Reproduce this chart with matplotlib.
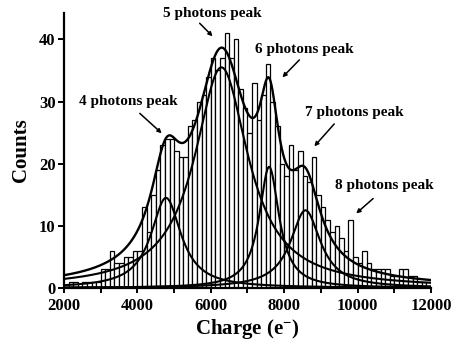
import numpy as np
import matplotlib
matplotlib.use("Agg")
import matplotlib.pyplot as plt

# Histogram of charge (electrons), 125 e- bins starting at 2000
bin_start = 2000
bin_width = 125
counts = [
    0, 1, 1, 0, 1, 1, 1, 1, 3, 3,
    6, 4, 4, 5, 5, 6, 6, 13, 9, 15,
    19, 23, 24, 24, 22, 21, 21, 26, 27, 30,
    31, 34, 37, 35, 37, 41, 37, 40, 32, 29,
    25, 33, 27, 31, 36, 30, 26, 20, 18, 23,
    19, 22, 18, 17, 21, 15, 13, 11, 9, 10,
    8, 6, 11, 5, 4, 6, 4, 3, 3, 3,
    3, 2, 2, 3, 3, 2, 2, 1, 1, 1,
]

# Lorentzian peak fits (4, 5, 6, 7 photons): centre, height, half width
peak_centers = [4780, 6290, 7590, 8580]
peak_heights = [14.5, 35.5, 19.5, 12.5]
peak_hwhm = [500, 890, 330, 500]

# Peak annotations: text, text position, arrow tail and tip
labels = ["4 photons peak", "5 photons peak", "6 photons peak",
          "7 photons peak", "8 photons peak"]
label_xy = [(3766, 30.0), (6049, 44.2), (8549, 38.4), (9908, 28.3), (10723, 16.5)]
arrow_tail = [(4065, 28.1), (5696, 42.6), (8413, 36.7), (9364, 26.4), (10424, 14.4)]
arrow_tip = [(4663, 24.9), (6049, 40.5), (7951, 33.9), (8821, 22.8), (9962, 12.0)]

plt.rcParams["font.family"] = ["Liberation Serif", "DejaVu Serif"]
plt.rcParams["mathtext.fontset"] = "custom"
plt.rcParams["mathtext.rm"] = "Liberation Serif:bold"
plt.rcParams["mathtext.bf"] = "Liberation Serif:bold"
plt.rcParams["mathtext.it"] = "Liberation Serif:bold:italic"

fig = plt.figure(figsize=(4.52, 3.41), dpi=100)
ax = fig.add_axes([0.1416, 0.1554, 0.9535 - 0.1416, 0.9628 - 0.1554])

edges = bin_start + bin_width * np.arange(len(counts))
ax.bar(edges, counts, width=bin_width, align="edge", facecolor="white",
       edgecolor="black", linewidth=0.9, zorder=2)

x = np.linspace(2000, 12000, 1200)
total = np.zeros_like(x)
for c, h, g in zip(peak_centers, peak_heights, peak_hwhm):
    comp = h / (1.0 + ((x - c) / g) ** 2)
    total += comp
    ax.plot(x, comp, color="black", lw=1.5, zorder=3)
ax.plot(x, total, color="black", lw=1.7, zorder=4)

for txt, xy, t0, t1 in zip(labels, label_xy, arrow_tail, arrow_tip):
    ax.text(xy[0], xy[1], txt, ha="center", va="center", fontsize=11,
            fontweight="bold", zorder=5, clip_on=False)
    ax.annotate("", xy=t1, xytext=t0,
                arrowprops=dict(arrowstyle="-|>", color="black", lw=1.1,
                                mutation_scale=6, shrinkA=0, shrinkB=0),
                annotation_clip=False, zorder=5)

ax.set_xlim(2000, 12000)
ax.set_ylim(0, 44.3)
ax.set_xticks([2000, 4000, 6000, 8000, 10000, 12000])
ax.set_xticks([3000, 5000, 7000, 9000, 11000], minor=True)
ax.set_yticks([0, 10, 20, 30, 40])
ax.tick_params(axis="both", which="both", direction="out", width=1.4,
               labelsize=12)
ax.tick_params(axis="x", which="both", length=3.5, pad=3.5)
ax.tick_params(axis="y", which="major", length=4, pad=2)
for lab in ax.get_xticklabels() + ax.get_yticklabels():
    lab.set_fontweight("bold")

for side in ("top", "right"):
    ax.spines[side].set_visible(False)
for side in ("left", "bottom"):
    ax.spines[side].set_linewidth(1.6)

ax.set_xlabel(r"Charge (e$^{-}$)", fontsize=15, fontweight="bold", labelpad=2)
ax.set_ylabel("Counts", fontsize=15, fontweight="bold", labelpad=6)

fig.savefig("out.png", dpi=100)
